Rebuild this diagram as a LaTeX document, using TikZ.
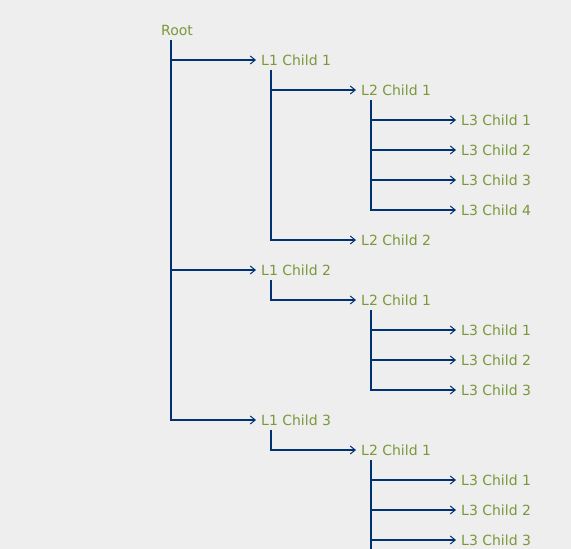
\documentclass[tikz,border=0pt]{standalone}
\usepackage{fontspec}
\setmainfont{DejaVu Sans}
\usetikzlibrary{arrows.meta}
\definecolor{bgc}{HTML}{EEEEEE}
\definecolor{txt}{HTML}{7A983A}
\definecolor{lnc}{HTML}{003172}
\tikzset{
  lbl/.style={anchor=west, inner sep=0pt, text=txt, font=\fontsize{14pt}{16pt}\selectfont},
  conn/.style={draw=lnc, line width=1.6pt, -{Straight Barb[length=5pt,width=8pt,line width=1pt]}},
  trunk/.style={draw=lnc, line width=1.6pt}
}
\newcommand{\br}[2]{\draw[conn] ([xshift=10pt,yshift=-10pt]#1.west) |- ([xshift=-5pt]#2.west);}
\begin{document}
\begin{tikzpicture}[x=1pt,y=-1pt]
\fill[bgc] (0,0) rectangle (571,549);
\useasboundingbox (0,0) rectangle (571,549);
\clip (0,0) rectangle (571,549);
\node[lbl] (root) at (161,30) {Root};
\node[lbl] (a) at (261,60) {L1 Child 1};
\node[lbl] (a1) at (361,90) {L2 Child 1};
\node[lbl] (a11) at (461,120) {L3 Child 1};
\node[lbl] (a12) at (461,150) {L3 Child 2};
\node[lbl] (a13) at (461,180) {L3 Child 3};
\node[lbl] (a14) at (461,210) {L3 Child 4};
\node[lbl] (a2) at (361,240) {L2 Child 2};
\node[lbl] (b) at (261,270) {L1 Child 2};
\node[lbl] (b1) at (361,300) {L2 Child 1};
\node[lbl] (b11) at (461,330) {L3 Child 1};
\node[lbl] (b12) at (461,360) {L3 Child 2};
\node[lbl] (b13) at (461,390) {L3 Child 3};
\node[lbl] (c) at (261,420) {L1 Child 3};
\node[lbl] (c1) at (361,450) {L2 Child 1};
\node[lbl] (c11) at (461,480) {L3 Child 1};
\node[lbl] (c12) at (461,510) {L3 Child 2};
\node[lbl] (c13) at (461,540) {L3 Child 3};
\coordinate (cend) at (371,560);
\br{root}{a}\br{root}{b}\br{root}{c}
\br{a}{a1}\br{a}{a2}
\br{a1}{a11}\br{a1}{a12}\br{a1}{a13}\br{a1}{a14}
\br{b}{b1}
\br{b1}{b11}\br{b1}{b12}\br{b1}{b13}
\br{c}{c1}
\br{c1}{c11}\br{c1}{c12}\br{c1}{c13}
\draw[trunk] ([xshift=10pt,yshift=-10pt]c1.west) -- (cend);
\end{tikzpicture}
\end{document}
